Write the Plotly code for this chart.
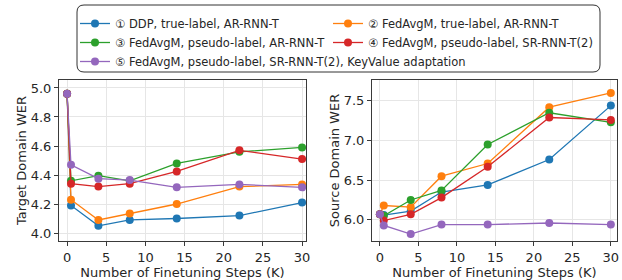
import plotly.graph_objects as go
from plotly.subplots import make_subplots

steps = [0, 0.5, 4, 8, 14, 22, 30]
names = [
    "① DDP, true-label, AR-RNN-T",
    "② FedAvgM, true-label, AR-RNN-T",
    "③ FedAvgM, pseudo-label, AR-RNN-T",
    "④ FedAvgM, pseudo-label, SR-RNN-T(2)",
    "⑤ FedAvgM, pseudo-label, SR-RNN-T(2), KeyValue adaptation",
]
colors = ["#1f77b4", "#ff7f0e", "#2ca02c", "#d62728", "#9467bd"]
legend_ids = ["legend", "legend2", "legend", "legend2", "legend"]

target_ddp = [4.96, 4.19, 4.05, 4.09, 4.10, 4.12, 4.21]
target_fed_true = [4.96, 4.23, 4.09, 4.135, 4.20, 4.32, 4.335]
target_fed_pseudo_ar = [4.96, 4.36, 4.395, 4.36, 4.48, 4.56, 4.59]
target_fed_pseudo_sr = [4.96, 4.34, 4.32, 4.34, 4.425, 4.57, 4.51]
target_fed_pseudo_kv = [4.96, 4.47, 4.375, 4.365, 4.315, 4.335, 4.315]

source_ddp = [6.07, 6.06, 6.11, 6.35, 6.44, 6.76, 7.44]
source_fed_true = [6.07, 6.18, 6.16, 6.55, 6.71, 7.42, 7.60]
source_fed_pseudo_ar = [6.07, 6.05, 6.25, 6.37, 6.95, 7.35, 7.23]
source_fed_pseudo_sr = [6.07, 5.99, 6.07, 6.28, 6.67, 7.29, 7.26]
source_fed_pseudo_kv = [6.07, 5.93, 5.82, 5.94, 5.94, 5.96, 5.94]

x_ticks = [0, 5, 10, 15, 20, 25, 30]
target_ticks = [4.0, 4.2, 4.4, 4.6, 4.8, 5.0]
source_ticks = [6.0, 6.5, 7.0, 7.5]

target = [target_ddp, target_fed_true, target_fed_pseudo_ar, target_fed_pseudo_sr, target_fed_pseudo_kv]
source = [source_ddp, source_fed_true, source_fed_pseudo_ar, source_fed_pseudo_sr, source_fed_pseudo_kv]

W, H = 622, 280

fig = make_subplots(rows=1, cols=2)
for i in range(5):
    fig.add_trace(go.Scatter(x=steps, y=target[i], mode="lines+markers", name=names[i],
                             line=dict(color=colors[i], width=1.3), marker=dict(size=8, color=colors[i]),
                             legendgroup=str(i), showlegend=True, legend=legend_ids[i]), row=1, col=1)
for i in range(5):
    fig.add_trace(go.Scatter(x=steps, y=source[i], mode="lines+markers", name=names[i],
                             line=dict(color=colors[i], width=1.3), marker=dict(size=8, color=colors[i]),
                             legendgroup=str(i), showlegend=False), row=1, col=2)

font = dict(family="DejaVu Sans", size=13, color="#262626")
axis_common = dict(showline=True, mirror=True, linecolor="#3a3a3a", linewidth=1, ticks="outside",
                   ticklen=4, tickcolor="#3a3a3a", showgrid=True, gridcolor="#e6e6e6", gridwidth=1,
                   zeroline=False, tickfont=font, title_font=font, automargin=False)

fig.update_xaxes(**axis_common, tickvals=x_ticks, title_text="Number of Finetuning Steps (K)",
                 title_standoff=5)
fig.update_xaxes(range=[-1.03, 30.5], domain=[59/W, 306/W], row=1, col=1)
fig.update_xaxes(range=[-1.03, 30.8], domain=[372/W, 617/W], row=1, col=2)
fig.update_yaxes(**axis_common, domain=[1-241/H, 1-80/H], title_standoff=1)
fig.update_yaxes(range=[3.945, 5.055], tickvals=target_ticks, tickformat=".1f",
                 title_text="Target Domain WER", row=1, col=1)
fig.update_yaxes(range=[5.733, 7.763], tickvals=source_ticks, tickformat=".1f",
                 title_text="Source Domain WER", row=1, col=2)

# rounded legend frame
x0, x1, y0, y1, r = 77, 600, 5, 72, 7
def px(x):
    return x / W
def py(y):
    return 1 - y / H
path = (f"M {px(x0+r)},{py(y0)} L {px(x1-r)},{py(y0)} Q {px(x1)},{py(y0)} {px(x1)},{py(y0+r)} "
        f"L {px(x1)},{py(y1-r)} Q {px(x1)},{py(y1)} {px(x1-r)},{py(y1)} "
        f"L {px(x0+r)},{py(y1)} Q {px(x0)},{py(y1)} {px(x0)},{py(y1-r)} "
        f"L {px(x0)},{py(y0+r)} Q {px(x0)},{py(y0)} {px(x0+r)},{py(y0)} Z")
fig.add_shape(type="path", path=path, xref="paper", yref="paper",
              line=dict(color="#333333", width=1), fillcolor="white", layer="above")

legend_font = dict(family="DejaVu Sans", size=11.5, color="#262626")
legend_common = dict(orientation="v", yanchor="top", y=1-9/H, xanchor="left", borderwidth=0,
                     font=legend_font, itemwidth=30, tracegroupgap=0, bgcolor="rgba(0,0,0,0)")

fig.update_layout(
    width=W, height=H, margin=dict(l=0, r=0, t=0, b=0, autoexpand=False),
    plot_bgcolor="white", paper_bgcolor="white", font=font,
    legend=dict(**legend_common, x=75/W),
    legend2=dict(**legend_common, x=328/W),
)
fig.write_html("out.html", config={"displayModeBar": False},
               post_script="document.body.style.margin='0';document.body.style.padding='0';")
